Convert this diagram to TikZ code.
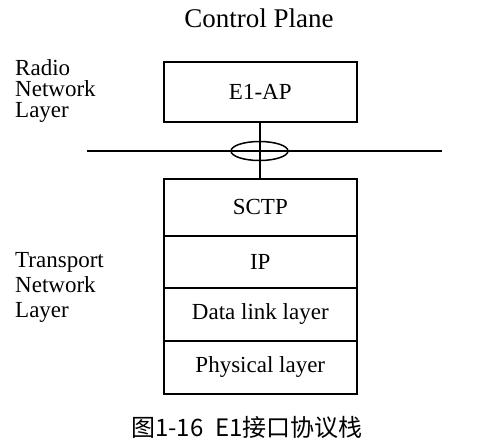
\documentclass[tikz,border=0pt]{standalone}
\usepackage{fontspec}
\setmainfont{Liberation Serif}
\newfontfamily\cjk{Noto Sans CJK SC}
\usetikzlibrary{shapes.geometric}
\begin{document}
\begin{tikzpicture}[x=1pt,y=-1pt,
  layerbox/.style={draw,line width=1.6pt,minimum width=193pt,anchor=north west,inner sep=0pt},
  boxtext/.style={font=\fontsize{23}{24}\selectfont},
  sidelabel/.style={anchor=north west,align=left,inner sep=0pt},
  conn/.style={line width=1.8pt}]
\useasboundingbox (0,0) rectangle (486,440);
\node[font=\fontsize{27}{28}\selectfont] (title) at (259,18) {Control Plane};
\node[layerbox,minimum height=60pt,boxtext] (e1ap) at (163,61) {E1-AP};
\node[layerbox,minimum height=57pt,boxtext] (sctp) at (163,178) {SCTP};
\node[layerbox,minimum height=52pt,boxtext] (ip) at (163,235) {IP};
\node[layerbox,minimum height=53pt,boxtext] (dll) at (163,287) {Data link layer};
\node[layerbox,minimum height=53pt,boxtext] (phy) at (163,340) {Physical layer};
\coordinate (hl) at (87,151);
\coordinate (hr) at (442,151);
\draw[conn] (hl) -- (hr);
\draw[conn] (e1ap.south) -- (sctp.north);
\node[draw,ellipse,line width=1.5pt,minimum width=57pt,minimum height=19pt,inner sep=0pt] (sap) at (259.5,151) {};
\node[sidelabel,font=\fontsize{23}{21}\selectfont] (rnl) at (15,59) {Radio\\Network\\Layer};
\node[sidelabel,font=\fontsize{23}{25}\selectfont] (tnl) at (15,252) {Transport\\Network\\Layer};
\node[font=\cjk\fontsize{24}{25}\selectfont] (cap) at (247,427) {图1-16\hspace{0.5em}E1接口协议栈};
\end{tikzpicture}
\end{document}
